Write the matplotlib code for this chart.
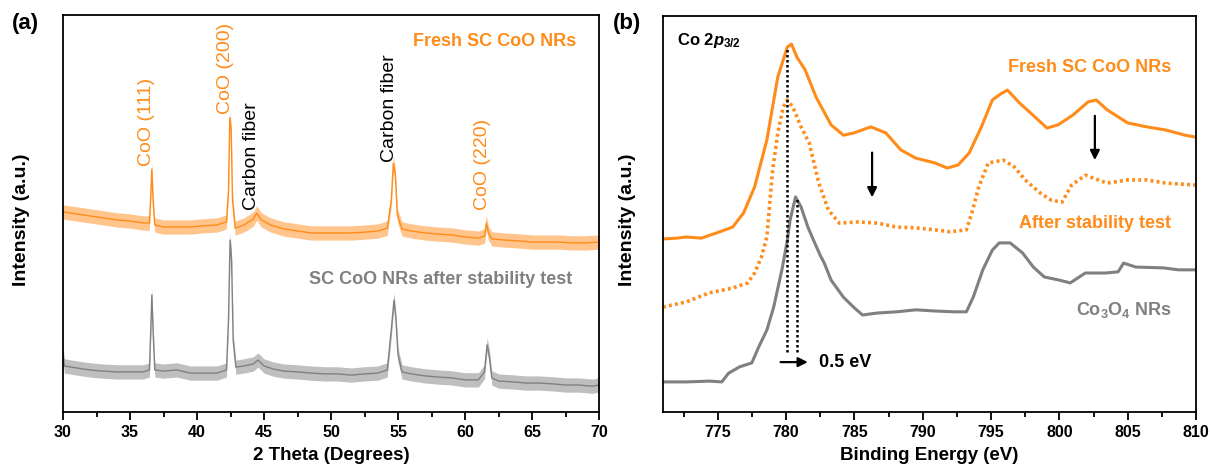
import matplotlib
matplotlib.use("Agg")
import matplotlib.pyplot as plt
from matplotlib.ticker import MultipleLocator

plt.rcParams['font.family'] = ['Liberation Sans', 'DejaVu Sans']
plt.rcParams['mathtext.fontset'] = 'custom'
plt.rcParams['mathtext.rm'] = 'Liberation Sans:bold'
plt.rcParams['mathtext.it'] = 'Liberation Sans:italic:bold'
plt.rcParams['mathtext.bf'] = 'Liberation Sans:bold'

ORANGE = '#FF8C1A'
GRAY = '#808080'

# ---------------- Panel (a): XRD ----------------
xrd_fresh_x = [30.0, 31.0, 32.0, 33.0, 34.0, 35.0, 36.0, 36.45, 36.55, 36.63, 36.72, 36.85,
               37.5, 38.5, 39.5, 40.5, 41.5, 42.2, 42.35, 42.45, 42.55, 42.65, 42.85,
               43.5, 44.2, 44.45, 44.8, 45.5, 46.5, 47.5, 48.5, 49.5, 50.5, 51.5, 52.5, 53.5,
               54.2, 54.5, 54.65, 54.8, 54.95, 55.3, 56.0, 57.0, 58.0, 59.0, 60.0, 61.0,
               61.45, 61.6, 61.75, 62.0, 63.0, 64.0, 65.0, 66.0, 67.0, 68.0, 69.0, 70.0]
xrd_fresh_y = [50.4, 49.9, 49.4, 48.9, 48.4, 48.1, 47.6, 47.6, 54.7, 61.2, 53.4, 47.1,
               46.6, 46.6, 46.6, 46.9, 47.1, 47.9, 55.9, 74.1, 71.0, 53.4, 46.3,
               47.1, 48.6, 50.1, 48.4, 47.1, 46.1, 45.6, 45.1, 45.1, 45.1, 45.1, 45.3, 45.6,
               46.3, 53.4, 62.7, 59.7, 49.6, 46.1, 45.6, 45.1, 44.8, 44.6, 44.1, 43.8,
               44.3, 47.6, 45.1, 43.6, 43.3, 43.1, 42.8, 42.8, 42.8, 42.6, 42.6, 42.8]

xrd_after_x = [30.0, 30.1, 31.0, 32.0, 33.0, 34.0, 35.0, 36.0, 36.45, 36.55, 36.63, 36.72, 36.85,
               37.5, 38.5, 39.5, 40.5, 41.5, 42.2, 42.35, 42.47, 42.58, 42.7, 42.9,
               43.5, 44.2, 44.55, 45.0, 45.7, 46.5, 47.5, 48.5, 49.5, 50.5, 51.5, 52.5, 53.5,
               54.2, 54.5, 54.7, 54.85, 55.0, 55.3, 56.0, 57.0, 58.0, 59.0, 60.0, 61.0,
               61.45, 61.65, 61.8, 62.0, 62.5, 63.5, 64.5, 65.5, 66.5, 67.5, 68.5, 69.5, 70.0]
xrd_after_y = [14.9, 11.6, 11.1, 10.6, 10.3, 10.1, 10.1, 10.1, 10.6, 20.7, 29.5, 20.7, 10.6,
               10.3, 10.6, 9.8, 9.8, 9.8, 10.6, 23.2, 43.3, 38.3, 18.1, 11.3,
               11.6, 12.1, 13.1, 11.6, 10.8, 10.3, 10.1, 9.8, 9.6, 9.6, 9.3, 9.6, 9.8,
               10.6, 20.7, 28.2, 23.2, 14.4, 10.1, 9.6, 9.1, 8.8, 8.6, 8.1, 8.1,
               10.1, 16.9, 14.4, 8.6, 7.8, 7.6, 7.3, 7.3, 7.1, 6.8, 6.8, 6.5, 6.8]

xrd_ticks = [30, 35, 40, 45, 50, 55, 60, 65, 70]

# ---------------- Panel (b): XPS ----------------
xps_fresh_x = [771.0, 772.0, 772.7, 773.8, 774.9, 776.1, 776.9, 777.7, 778.6, 779.4, 780.1, 780.4,
               780.8, 781.4, 782.2, 783.3, 784.2, 785.0, 786.2, 787.3, 788.4, 789.5, 790.9,
               791.8, 792.6, 793.4, 794.3, 795.1, 795.7, 796.2, 797.1, 797.9, 799.1, 799.9,
               801.0, 802.1, 802.7, 803.5, 805.0, 806.4, 807.8, 809.2, 810.0]
xps_fresh_y = [43.7, 43.9, 44.2, 43.9, 45.2, 46.7, 50.3, 56.8, 68.7, 84.6, 92.2, 92.9,
               89.6, 86.4, 79.5, 72.5, 69.9, 70.5, 72.0, 70.5, 66.2, 64.1, 62.9,
               61.6, 62.4, 65.4, 72.0, 78.8, 80.3, 81.3, 78.0, 75.5, 71.7, 72.5,
               75.0, 78.3, 78.8, 76.3, 73.0, 72.0, 71.2, 69.9, 69.4]

xps_after_x = [771.0, 772.7, 774.4, 776.1, 777.2, 777.7, 778.2, 778.6, 779.0, 779.4, 779.8, 780.1,
               780.5, 781.1, 781.7, 782.4, 783.1, 783.9, 785.3, 786.7, 788.1, 789.5, 790.9,
               792.0, 793.2, 793.6, 794.1, 794.8, 795.9, 796.7, 797.5, 798.6, 799.4, 800.2,
               800.9, 801.9, 803.5, 805.0, 806.4, 807.8, 810.0]
xps_after_y = [26.5, 27.8, 30.1, 31.3, 32.6, 35.1, 39.1, 44.2, 60.4, 70.5, 77.0, 78.8,
               77.0, 72.0, 67.9, 57.8, 51.0, 47.7, 48.0, 47.7, 46.7, 46.5, 46.0,
               45.5, 46.0, 50.3, 56.8, 62.9, 63.6, 61.9, 58.6, 55.3, 53.5, 53.0,
               57.3, 59.8, 57.8, 58.6, 58.6, 57.8, 57.3]

xps_co3o4_x = [771.0, 772.7, 774.4, 775.3, 775.8, 776.6, 777.5, 778.0, 778.6, 779.1, 779.7, 780.1,
               780.3, 780.7, 781.1, 781.6, 782.1, 782.5, 782.8, 783.3, 784.2, 785.0, 785.6,
               786.7, 788.1, 789.5, 790.9, 792.3, 793.2, 793.7, 794.4, 795.1, 795.6, 796.4,
               797.3, 798.1, 798.9, 800.0, 800.8, 801.9, 803.4, 804.3, 804.7, 805.6, 807.6,
               808.7, 810.0]
xps_co3o4_y = [7.6, 7.6, 7.8, 7.6, 9.8, 11.4, 12.4, 16.4, 20.7, 26.5, 35.9, 43.4,
               48.5, 54.3, 51.8, 46.7, 42.7, 39.6, 37.6, 33.3, 29.0, 26.3, 24.5,
               25.0, 25.3, 25.8, 25.5, 25.3, 25.3, 29.0, 35.9, 40.9, 42.7, 42.7,
               40.2, 36.6, 34.1, 33.3, 32.6, 35.1, 35.1, 35.4, 37.6, 36.6, 36.4,
               35.9, 35.9]

xps_ticks = [775, 780, 785, 790, 795, 800, 805, 810]

# peak-position guide lines (eV) and their top ends
guide_x = [780.1, 780.8]
guide_top = [92.2, 54.3]
guide_bottom = 15.2

W, H = 1211, 471
fig = plt.figure(figsize=(W / 100, H / 100), dpi=100)

def px_axes(l, t, r, b):
    return fig.add_axes([l / W, 1 - b / H, (r - l) / W, (b - t) / H])

axA = px_axes(63, 15, 599, 412)
axB = px_axes(663, 16, 1196, 412)

for ax in (axA, axB):
    for s in ax.spines.values():
        s.set_linewidth(1.3)
    ax.set_yticks([])
    ax.set_ylim(0, 100)
    ax.tick_params(axis='x', which='major', length=5.5, width=1.3, direction='out',
                   labelsize=11.5, pad=4)
    ax.tick_params(axis='x', which='minor', length=3.5, width=1.3, direction='out')
    ax.xaxis.set_minor_locator(MultipleLocator(2.5))

# ---- panel (a)
noise = 1.8
axA.fill_between(xrd_fresh_x, [v - noise for v in xrd_fresh_y], [v + noise for v in xrd_fresh_y],
                 color=ORANGE, alpha=0.5, lw=0)
axA.plot(xrd_fresh_x, xrd_fresh_y, color=ORANGE, lw=1.0)
axA.fill_between(xrd_after_x, [v - noise for v in xrd_after_y], [v + noise for v in xrd_after_y],
                 color=GRAY, alpha=0.5, lw=0)
axA.plot(xrd_after_x, xrd_after_y, color=GRAY, lw=1.0)
axA.set_xlim(30, 70)
axA.set_xticks(xrd_ticks)
axA.set_xticklabels([str(t) for t in xrd_ticks], fontweight='bold')
axA.set_xlabel('2 Theta (Degrees)', fontsize=13.5, fontweight='bold', labelpad=5)

axA.text(68.3, 93.2, 'Fresh SC CoO NRs', color=ORANGE, fontsize=13, fontweight='bold',
         ha='right', va='center')
axA.text(68.0, 33.5, 'SC CoO NRs after stability test', color=GRAY, fontsize=13,
         fontweight='bold', ha='right', va='center')
lab_kw = dict(rotation=90, ha='center', va='bottom', fontsize=14)
axA.text(36.2, 62.0, 'CoO (111)', color=ORANGE, **lab_kw)
axA.text(42.16, 75.0, 'CoO (200)', color=ORANGE, **lab_kw)
axA.text(44.1, 51.0, 'Carbon fiber', color='black', **lab_kw)
axA.text(54.35, 63.0, 'Carbon fiber', color='black', **lab_kw)
axA.text(61.3, 51.0, 'CoO (220)', color=ORANGE, **lab_kw)

# ---- panel (b)
axB.plot(xps_fresh_x, xps_fresh_y, color=ORANGE, lw=2.2)
axB.plot(xps_after_x, xps_after_y, color=ORANGE, lw=2.6, linestyle=(0, (0.8, 0.9)))
axB.plot(xps_co3o4_x, xps_co3o4_y, color=GRAY, lw=2.2)
for gx, gt in zip(guide_x, guide_top):
    axB.plot([gx, gx], [guide_bottom, gt], color='black', lw=1.8, linestyle=(0, (1, 1)))
axB.annotate('', xy=(781.8, 12.6), xytext=(779.4, 12.6),
             arrowprops=dict(arrowstyle='-|>', color='black', lw=1.6, mutation_scale=14))
axB.text(782.4, 12.6, '0.5 eV', fontsize=13, fontweight='bold', ha='left', va='center')
axB.annotate('', xy=(786.3, 53.5), xytext=(786.3, 66.2),
             arrowprops=dict(arrowstyle='-|>', color='black', lw=1.6, mutation_scale=14))
axB.annotate('', xy=(802.6, 62.9), xytext=(802.6, 75.5),
             arrowprops=dict(arrowstyle='-|>', color='black', lw=1.6, mutation_scale=14))
axB.set_xlim(771, 810)
axB.set_xticks(xps_ticks)
axB.set_xticklabels([str(t) for t in xps_ticks], fontweight='bold')
axB.set_xlabel('Binding Energy (eV)', fontsize=13.5, fontweight='bold', labelpad=5)

axB.text(808.2, 86.9, 'Fresh SC CoO NRs', color=ORANGE, fontsize=13, fontweight='bold',
         ha='right', va='center')
axB.text(808.2, 47.5, 'After stability test', color=ORANGE, fontsize=13, fontweight='bold',
         ha='right', va='center')
axB.text(808.2, 25.8, r'Co$_{3}$O$_{4}$ NRs', color=GRAY, fontsize=13, fontweight='bold',
         ha='right', va='center')
axB.text(772.0, 93.9, r'Co 2$\mathit{p}_{\mathrm{3/2}}$', color='black', fontsize=12,
         fontweight='bold', ha='left', va='center')

# y labels and panel letters
fig.text(22 / W, 1 - 220 / H, 'Intensity (a.u.)', rotation=90, fontsize=14, fontweight='bold',
         ha='center', va='center')
fig.text(627 / W, 1 - 220 / H, 'Intensity (a.u.)', rotation=90, fontsize=14, fontweight='bold',
         ha='center', va='center')
fig.text(25 / W, 1 - 24 / H, '(a)', fontsize=16, fontweight='bold', ha='center', va='center')
fig.text(627 / W, 1 - 24 / H, '(b)', fontsize=16, fontweight='bold', ha='center', va='center')

fig.savefig('out.png', dpi=100)
